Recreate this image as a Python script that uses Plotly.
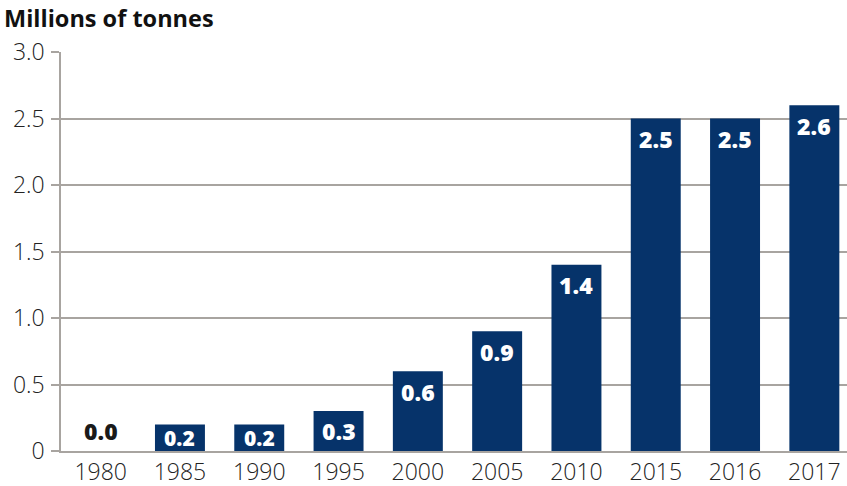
import plotly.graph_objects as go

years = ["1980", "1985", "1990", "1995", "2000", "2005", "2010", "2015", "2016", "2017"]
values = [0.0, 0.2, 0.2, 0.3, 0.6, 0.9, 1.4, 2.5, 2.5, 2.6]
labels = ["0.0", "0.2", "0.2", "0.3", "0.6", "0.9", "1.4", "2.5", "2.5", "2.6"]
y_tickvals = [0, 0.5, 1.0, 1.5, 2.0, 2.5, 3.0]
y_ticktext = ["0", "0.5", "1.0", "1.5", "2.0", "2.5", "3.0"]

BAR = "#06336a"
GRID = "#a8a4a0"
FONT = "Open Sans"

fig = go.Figure()
fig.add_trace(go.Bar(x=years, y=values, marker=dict(color=BAR, line=dict(width=0)),
                     width=0.63, hoverinfo="skip"))

PX_PER_UNIT = 399 / 3.0
anns = []
for i, (v, t) in enumerate(zip(values, labels)):
    if v == 0:
        anns.append(dict(x=i, y=0, yanchor="bottom", yshift=2, text=t, showarrow=False,
                         font=dict(family=FONT, size=23, color="#1a1a1a", weight=800)))
    else:
        bar_px = v * PX_PER_UNIT
        shift = min(20.5, bar_px / 2)
        size = 23 if bar_px > 30 else 21
        anns.append(dict(x=i, y=v, yanchor="middle", yshift=-shift, text=t, showarrow=False,
                         font=dict(family=FONT, size=size, color="white", weight=800)))

anns.append(dict(xref="paper", yref="paper", x=-61/793, y=1, yshift=34, xanchor="left",
                 yanchor="middle", text="Millions of tonnes", showarrow=False,
                 xshift=2, font=dict(family=FONT, size=23.5, color="#111111", weight=700)))

fig.update_layout(
    width=854, height=486,
    margin=dict(l=61, r=0, t=52, b=35),
    paper_bgcolor="white", plot_bgcolor="white",
    showlegend=False,
    annotations=anns,
    xaxis=dict(type="category", showgrid=False, showline=True, linecolor=GRID, linewidth=1.5,
               ticks="", tickfont=dict(family=FONT, size=23, color="#222222", weight=300),
               fixedrange=True),
    yaxis=dict(range=[0, 3.0], tickvals=y_tickvals, ticktext=y_ticktext,
               showgrid=True, gridcolor=GRID, gridwidth=1.5, zeroline=False,
               showline=True, linecolor=GRID, linewidth=1.5,
               ticks="outside", ticklen=8, tickcolor=GRID, tickwidth=1.5,
               tickfont=dict(family=FONT, size=23, color="#222222", weight=300),
               ticklabelstandoff=2, fixedrange=True),
)

fig.write_html("out.html", config={"displayModeBar": False},
               post_script="document.body.style.margin='0';document.body.style.overflow='hidden';")
